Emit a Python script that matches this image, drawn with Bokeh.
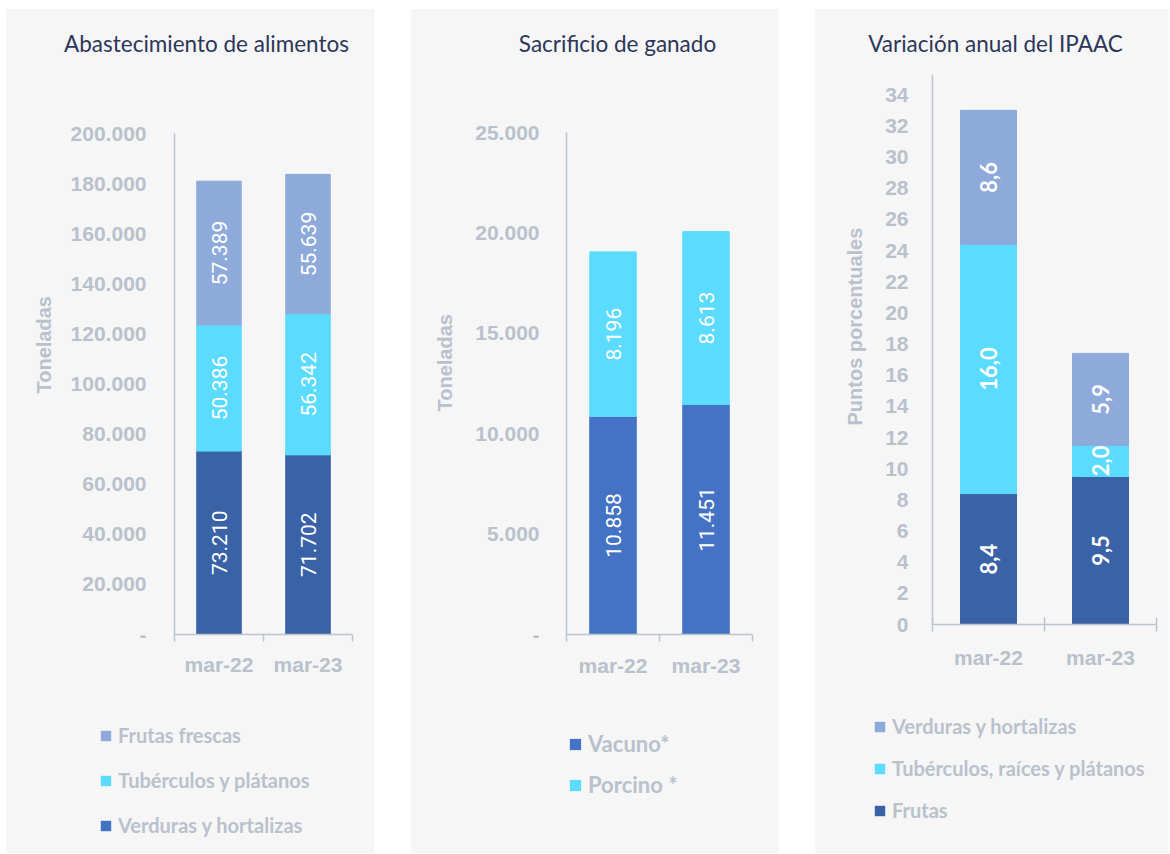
import math
from bokeh.plotting import figure
from bokeh.models import (ColumnDataSource, Range1d, LinearAxis, FixedTicker,
                          Legend, LegendItem, Title, Spacer, Plot)
from bokeh.layouts import row, column
from bokeh.core.properties import value
from bokeh.embed import file_html
from bokeh.resources import INLINE

# ---------------- data ----------------
categories = ["mar-22", "mar-23"]

abast_title = "Abastecimiento de alimentos"
abast_ylabel = "Toneladas"
abast_names = ["Verduras y hortalizas", "Tubérculos y plátanos", "Frutas frescas"]
abast_verduras = [73210, 71702]
abast_tuberculos = [50386, 56342]
abast_frutas = [57389, 55639]
abast_yticks = [0, 20000, 40000, 60000, 80000, 100000, 120000, 140000, 160000, 180000, 200000]
abast_ylabels = ["-", "20.000", "40.000", "60.000", "80.000", "100.000", "120.000",
                 "140.000", "160.000", "180.000", "200.000"]

sacr_title = "Sacrificio de ganado"
sacr_ylabel = "Toneladas"
sacr_names = ["Vacuno*", "Porcino *"]
sacr_vacuno = [10858, 11451]
sacr_porcino = [8196, 8613]
sacr_yticks = [0, 5000, 10000, 15000, 20000, 25000]
sacr_ylabels = ["-", "5.000", "10.000", "15.000", "20.000", "25.000"]

ipaac_title = "Variación anual del IPAAC"
ipaac_ylabel = "Puntos porcentuales"
ipaac_names = ["Frutas", "Tubérculos, raíces y plátanos", "Verduras y hortalizas"]
ipaac_frutas = [8.4, 9.5]
ipaac_tuberculos = [16.0, 2.0]
ipaac_verduras = [8.6, 5.9]
ipaac_yticks = [0, 2, 4, 6, 8, 10, 12, 14, 16, 18, 20, 22, 24, 26, 28, 30, 32, 34]
ipaac_ylabels = ["0", "2", "4", "6", "8", "10", "12", "14", "16", "18", "20", "22",
                 "24", "26", "28", "30", "32", "34"]

# ---------------- style ----------------
BG = "#f6f6f6"
AXIS = "#bcc4ce"
TICKTXT = "#b9c1cc"
TITLE = "#2c3759"
C_DARK = "#3a62a7"
C_MID = "#4472c4"
C_CYAN = "#5bdbfe"
C_LIGHT = "#8eaadb"

HAS_FRAME_ALIGN = "frame_align" in Plot.properties()


def fmt_thousands(v):
    return f"{v:,}".replace(",", ".")


def fmt_comma(v):
    return f"{v:.1f}".replace(".", ",")


def no_align(f):
    if HAS_FRAME_ALIGN:
        f.frame_align = False
    return f


def blank_fig(w, h):
    f = figure(width=w, height=h, x_range=Range1d(0, w), y_range=Range1d(0, h),
               output_backend="svg", toolbar_location=None, x_axis_type=None,
               y_axis_type=None, background_fill_color=BG, border_fill_color=BG,
               outline_line_color=None, min_border=0, title_location=None)
    return no_align(f)


def make_panel(g):
    n = len(categories)
    xs = [i + 0.5 for i in range(n)]
    data = {"x": xs}
    keys = []
    for k, (name, vals, color) in enumerate(g["series"]):
        data[f"s{k}"] = vals
        keys.append(f"s{k}")
    src = ColumnDataSource(data)
    colors = [s[2] for s in g["series"]]
    w = g["w"]

    # ---- title strip ----
    head = blank_fig(w, g["head_h"])
    head.text(x=[g["tx"]], y=[g["ty"]], text=[g["title"]], text_align="center",
              text_baseline="middle", text_font=value("Lato"), text_font_size="22.5px",
              text_color=TITLE)

    # ---- chart ----
    p = figure(width=w, height=g["chart_h"], x_range=Range1d(0, n),
               y_range=Range1d(0, g["ymax"]), output_backend="svg",
               toolbar_location=None, x_axis_type=None, y_axis_type=None,
               background_fill_color=BG, border_fill_color=BG,
               outline_line_color=None, min_border=0, title_location=None)
    no_align(p)
    p.min_border_left = g["bl"]
    p.min_border_right = g["br"]
    p.min_border_top = 15
    p.min_border_bottom = g["bb"]

    p.vbar_stack(keys, x="x", width=0.5, color=colors, source=src)

    yaxis = LinearAxis(ticker=FixedTicker(ticks=g["yticks"], minor_ticks=[]),
                       major_label_overrides={t: l for t, l in zip(g["yticks"], g["ylabels"])},
                       major_tick_out=0, major_tick_in=0, minor_tick_out=0, minor_tick_in=0,
                       major_label_standoff=g["ystand"],
                       axis_line_color=AXIS, axis_line_width=1.5,
                       major_label_text_font="Liberation Sans",
                       major_label_text_font_style="bold",
                       major_label_text_font_size="21px",
                       major_label_text_color=TICKTXT)
    p.add_layout(yaxis, "left")
    p.add_layout(Title(text=g["ylabel"], align="left", offset=g["yoff"],
                       standoff=g["ytstand"], vertical_align="bottom",
                       text_font="Liberation Sans", text_font_style="bold",
                       text_font_size="20px", text_color=TICKTXT), "left")

    xaxis = LinearAxis(ticker=FixedTicker(ticks=xs, minor_ticks=list(range(n + 1))),
                       major_label_overrides={x: c for x, c in zip(xs, categories)},
                       major_tick_line_color=None, major_tick_out=0, major_tick_in=0,
                       minor_tick_out=7, minor_tick_in=g["tick_in"],
                       minor_tick_line_color=AXIS, minor_tick_line_width=1.5,
                       axis_line_color=AXIS, axis_line_width=1.5,
                       major_label_standoff=g["xstand"],
                       major_label_text_font="Liberation Sans",
                       major_label_text_font_style="bold",
                       major_label_text_font_size="21px",
                       major_label_text_color=TICKTXT)
    p.add_layout(xaxis, "below")

    base = [0.0] * n
    for name, vals, color in g["series"]:
        mids = [b + v / 2 for b, v in zip(base, vals)]
        base = [b + v for b, v in zip(base, vals)]
        p.text(x=xs, y=mids, text=[g["fmt"](v) for v in vals], angle=math.pi / 2,
               text_align="center", text_baseline="middle", text_color="white",
               text_font=value(g["vfont"]), text_font_size=g["vsize"],
               text_font_style=g["vstyle"])

    # ---- legend strip (zero-size key carriers, one per series) ----
    foot = blank_fig(w, g["foot_h"])
    swatches = [foot.vbar(x=[0], bottom=[0], top=[0], width=0, fill_color=c, line_color=None)
                for c in g["lcolors"]]
    items = [LegendItem(label=g["series"][i][0], renderers=[swatches[i]])
             for i in g["legend_order"]]
    gs = g["gsize"]
    legend = Legend(items=items, location=(g["lx"], g["ly"]), orientation="vertical",
                    padding=0, margin=0, spacing=g["lsp"], glyph_width=gs, glyph_height=gs,
                    label_standoff=6, label_height=gs,
                    border_line_color=None, background_fill_alpha=0,
                    label_text_font="Lato", label_text_font_style="bold",
                    label_text_font_size=g["lfont"], label_text_color=TICKTXT)
    foot.add_layout(legend)

    return column(head, p, foot, spacing=0, styles={"background-color": BG})


p1 = make_panel(dict(
    w=368, head_h=109, chart_h=561, foot_h=174, bl=168, br=22, bb=45, ymax=200000,
    series=[(abast_names[0], abast_verduras, C_DARK),
            (abast_names[1], abast_tuberculos, C_CYAN),
            (abast_names[2], abast_frutas, C_LIGHT)],
    lcolors=[C_MID, C_CYAN, C_LIGHT],
    legend_order=[2, 1, 0], yticks=abast_yticks, ylabels=abast_ylabels,
    ystand=28, xstand=11, tick_in=0, fmt=fmt_thousands,
    vfont="Roboto", vsize="21px", vstyle="normal",
    title=abast_title, tx=200, ty=75,
    ylabel=abast_ylabel, yoff=241, ytstand=25,
    gsize=13, lfont="20px", lx=93, ly=16, lsp=21))

p2 = make_panel(dict(
    w=368, head_h=108, chart_h=562, foot_h=174, bl=155, br=27, bb=45, ymax=25000,
    series=[(sacr_names[0], sacr_vacuno, C_MID),
            (sacr_names[1], sacr_porcino, C_CYAN)],
    lcolors=[C_MID, C_CYAN],
    legend_order=[0, 1], yticks=sacr_yticks, ylabels=sacr_ylabels,
    ystand=27, xstand=12, tick_in=0, fmt=fmt_thousands,
    vfont="Roboto", vsize="21px", vstyle="normal",
    title=sacr_title, tx=206, ty=74,
    ylabel=sacr_ylabel, yoff=223, ytstand=34,
    gsize=14, lfont="22px", lx=157, ly=55, lsp=14))

p3 = make_panel(dict(
    w=354, head_h=50, chart_h=613, foot_h=181, bl=117, br=13, bb=48, ymax=35.3,
    series=[(ipaac_names[0], ipaac_frutas, C_DARK),
            (ipaac_names[1], ipaac_tuberculos, C_CYAN),
            (ipaac_names[2], ipaac_verduras, C_LIGHT)],
    lcolors=[C_DARK, C_CYAN, C_LIGHT],
    legend_order=[2, 1, 0], yticks=ipaac_yticks, ylabels=ipaac_ylabels,
    ystand=24, xstand=14, tick_in=7, fmt=fmt_comma,
    vfont="Lato", vsize="22px", vstyle="bold",
    title=ipaac_title, tx=180, ty=16,
    ylabel=ipaac_ylabel, yoff=199, ytstand=34,
    gsize=13, lfont="20px", lx=58, ly=31, lsp=18))

layout = column(Spacer(height=9),
                row(Spacer(width=6), p1, Spacer(width=37), p2, Spacer(width=36), p3,
                    spacing=0),
                spacing=0)
open("out.html", "w").write(file_html(layout, INLINE))
